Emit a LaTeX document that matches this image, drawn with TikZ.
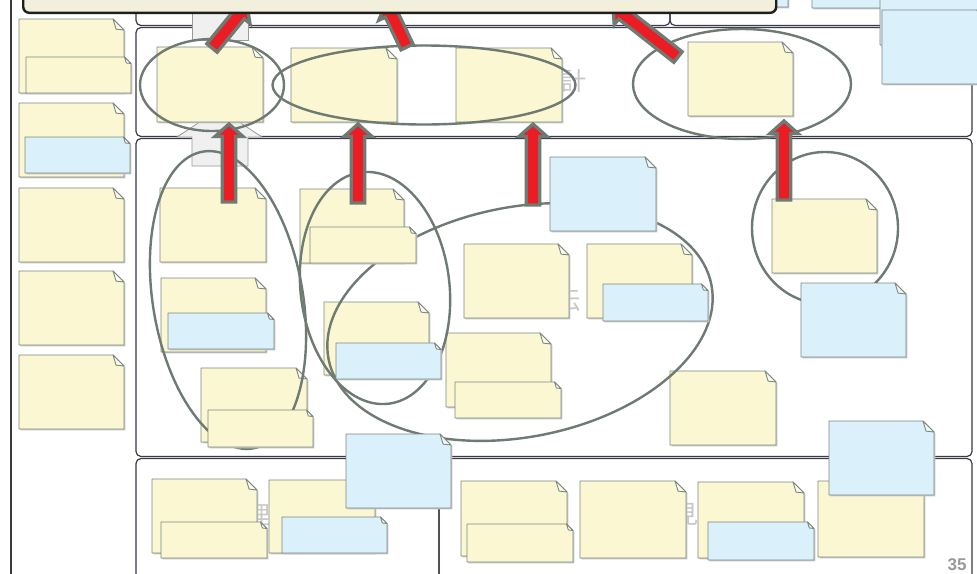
\documentclass[tikz,border=0pt]{standalone}
\usepackage{fontspec}
\newfontfamily\cjkfont{Noto Sans CJK JP}
\newfontfamily\numfont{Liberation Sans}
\usetikzlibrary{calc,shapes.geometric}
\definecolor{noteY}{HTML}{FAF7D2}
\definecolor{noteB}{HTML}{DAF0FA}
\definecolor{foldY}{HTML}{FDFCEF}
\definecolor{foldB}{HTML}{F0F9FD}
\definecolor{noteline}{HTML}{7D897F}
\definecolor{ellc}{HTML}{6E7A72}
\definecolor{redc}{HTML}{EC1C24}
\definecolor{sectc}{HTML}{3A3A48}
\definecolor{topfill}{HTML}{F2EFDC}
\definecolor{grayfill}{HTML}{F0F0F0}
\definecolor{ghostc}{HTML}{C8C8C8}
\tikzset{
 sect/.style={draw=sectc, line width=1.2pt, rounded corners=5pt},
 ystick/.style={fill=noteY}, bstick/.style={fill=noteB},
 ystickfold/.style={fill=foldY}, bstickfold/.style={fill=foldB},
 noteedge/.style={draw=noteline, line width=0.9pt, line join=round},
 notesh/.style={fill=black!22},
 ell/.style={draw=ellc, line width=2.4pt, shape=ellipse, inner sep=0pt},
 redarr/.style={fill=redc, draw=ellc, line width=3.3pt, line join=miter, miter limit=10},
 grayarr/.style={fill=grayfill, draw=black!40, line width=0.8pt},
 topbox/.style={draw=black!88, fill=topfill, line width=2.4pt, rounded corners=6pt, inner sep=0pt},
 ghost/.style={text=ghostc, font=\cjkfont\fontsize{25}{25}\selectfont, inner sep=0pt},
 anchorbox/.style={inner sep=0pt, outer sep=0pt, draw=none}
}
% name, x1, y1, x2, y2, colour style, fold size
\newcommand\stick[7]{%
 \fill[notesh, shift={(1.3,1.3)}] (#2,#3) -- ({#4-#7},#3) -- (#4,{#3+#7}) -- (#4,#5) -- (#2,#5) -- cycle;
 \path[#6, noteedge] (#2,#3) -- ({#4-#7},#3) -- (#4,{#3+#7}) -- (#4,#5) -- (#2,#5) -- cycle;
 \path[#6fold, noteedge] ({#4-#7},#3) -- ({#4-0.72*#7},{#3+0.92*#7}) -- (#4,{#3+#7}) -- cycle;
 \node[anchorbox, minimum width={(#4)-(#2)}, minimum height={(#5)-(#3)}] (#1) at ({(#2+#4)/2},{(#3+#5)/2}) {};
}
\newcommand\redarrow[2]{%
 \draw[redarr] ($(#1)!6.7pt!90:(#2)$) -- ($(#2)!12.5pt!(#1)!6.7pt!90:(#2)$) -- ($(#2)!12.5pt!(#1)!14pt!90:(#2)$) -- (#2) -- ($(#2)!12.5pt!(#1)!14pt!-90:(#2)$) -- ($(#2)!12.5pt!(#1)!6.7pt!-90:(#2)$) -- ($(#1)!6.7pt!-90:(#2)$) -- cycle;}
\begin{document}
\begin{tikzpicture}[x=1pt,y=-1pt]
\useasboundingbox (0,0) rectangle (977,573);
\clip (0,0) rectangle (977,573);
\fill[white] (0,0) rectangle (977,573);
% sections
\draw[sect] (136,-20) rectangle (670,25.5);
\draw[sect] (670,-20) rectangle (972,25.5);
\draw[sect] (136,27.5) rectangle (972,136.5);
\draw[sect] (136,138.5) rectangle (972,456.5);
\draw[sect] (136,458.5) rectangle (439,590);
\draw[sect] (439,458.5) rectangle (972,590);
\draw[sectc, line width=1.2pt] (11,-5) -- (11,580);
% background labels
\node[ghost] (g1) at (561,81) {設計};
\node[ghost] (g2) at (568,300) {伝};
\node[ghost] (g3) at (258,515) {理};
\node[ghost] (g4) at (686,514) {見};
% grey block arrows
\draw[grayarr] (192,-5) rectangle (248,40);
\draw[grayarr] (192,166) -- (192,137) -- (177,137) -- (219.5,109) -- (262,137) -- (248,137) -- (248,166) -- cycle;
% back notes
\stick{L1}{19}{19}{124}{93}{ystick}{11}
\stick{L2}{19}{103}{124}{177}{ystick}{11}
\stick{L3}{19}{188}{124}{262}{ystick}{11}
\stick{L4}{19}{271}{124}{345}{ystick}{11}
\stick{L5}{19}{355}{124}{429}{ystick}{11}
\stick{An}{157}{47}{263}{122}{ystick}{11}
\stick{Bn}{291}{48}{397}{122}{ystick}{11}
\stick{Cn}{456}{48}{562}{122}{ystick}{11}
\stick{Dn}{688}{42}{793}{116}{ystick}{11}
\stick{c1a}{160}{188}{266}{262}{ystick}{11}
\stick{c1b}{161}{278}{266}{352}{ystick}{11}
\stick{c1c}{201}{368}{307}{442}{ystick}{11}
\stick{c2a}{300}{189}{404}{263}{ystick}{11}
\stick{c2b}{324}{302}{429}{375}{ystick}{11}
\stick{m1}{464}{244}{569}{318}{ystick}{11}
\stick{m2}{587}{244}{692}{318}{ystick}{11}
\stick{m3}{446}{333}{551}{407}{ystick}{11}
\stick{r1}{772}{199}{877}{273}{ystick}{11}
\stick{r2}{670}{371}{776}{445}{ystick}{11}
\stick{s4a}{152}{479}{257}{553}{ystick}{11}
\stick{s4b}{269}{480}{375}{553}{ystick}{11}
\stick{s4c}{461}{481}{567}{556}{ystick}{11}
\stick{s4d}{580}{481}{686}{558}{ystick}{11}
\stick{s4e}{698}{482}{804}{558}{ystick}{11}
\stick{s4f}{818}{481}{924}{557}{ystick}{11}
% ellipses
\node[ell, minimum width=144pt, minimum height=92pt] (eA) at (212,85) {};
\node[ell, minimum width=303pt, minimum height=79pt] (eBC) at (424,85) {};
\node[ell, minimum width=218pt, minimum height=110pt] (eD) at (742,84) {};
\node[ell, minimum width=150pt, minimum height=301pt, rotate=9.6] (eC1) at (228,300) {};
\node[ell, minimum width=149pt, minimum height=233pt, rotate=6.5] (eC2) at (375,288) {};
\node[ell, minimum width=390pt, minimum height=230pt, rotate=11] (eBig) at (520,322) {};
\node[ell, minimum width=146pt, minimum height=152pt] (eR) at (825,228) {};
% front notes
\stick{L1s}{26}{57}{131}{93}{ystick}{6.5}
\stick{L2s}{25}{137}{130}{173}{bstick}{6.5}
\stick{c1bs}{168}{313}{274}{349}{bstick}{6.5}
\stick{c1cs}{208}{410}{313}{447}{ystick}{6.5}
\stick{c2as}{310}{227}{416}{263}{ystick}{6.5}
\stick{c2bs}{336}{343}{441}{379}{bstick}{6.5}
\stick{m2s}{603}{284}{708}{321}{bstick}{6.5}
\stick{m3s}{455}{382}{561}{418}{ystick}{6.5}
\stick{btop}{550}{157}{656}{231}{bstick}{11}
\stick{rb}{801}{283}{906}{357}{bstick}{11}
\stick{rb2}{829}{421}{934}{495}{bstick}{11}
\stick{bb}{346}{434}{451}{508}{bstick}{11}
\stick{s4as}{161}{522}{267}{558}{ystick}{6.5}
\stick{s4bs}{282}{517}{387}{553}{bstick}{6.5}
\stick{s4cs}{467}{524}{573}{562}{ystick}{6.5}
\stick{s4es}{708}{522}{814}{560}{bstick}{6.5}
% red arrows
\coordinate (r1s) at (212,48); \coordinate (r1e) at (247,5);
\coordinate (r2s) at (407,47); \coordinate (r2e) at (386,3);
\coordinate (r3s) at (678,57); \coordinate (r3e) at (613,6);
\coordinate (r4s) at (229,202); \coordinate (r4e) at (229,124);
\coordinate (r5s) at (358,203); \coordinate (r5e) at (358,124);
\coordinate (r6s) at (533,205); \coordinate (r6e) at (533,124);
\coordinate (r7s) at (784,200); \coordinate (r7e) at (784,121);
\redarrow{r1s}{r1e}
\redarrow{r2s}{r2e}
\redarrow{r3s}{r3e}
\redarrow{r4s}{r4e}
\redarrow{r5s}{r5e}
\redarrow{r6s}{r6e}
\redarrow{r7s}{r7e}
% top area
\stick{tr1}{683}{-67}{788}{7}{bstick}{11}
\node[topbox, minimum width=753pt, minimum height=80pt, anchor=south west] (topbox) at (22,14) {};
\stick{tr2}{812}{-66}{918}{8}{bstick}{11}
\stick{tr3}{880}{-29}{986}{45}{bstick}{11}
\stick{tr4}{882}{10}{988}{84}{bstick}{11}
% page number
\node[font=\numfont\bfseries\fontsize{17}{17}\selectfont, text=black!40, inner sep=0pt] (pg) at (957,565) {35};
\end{tikzpicture}
\end{document}
